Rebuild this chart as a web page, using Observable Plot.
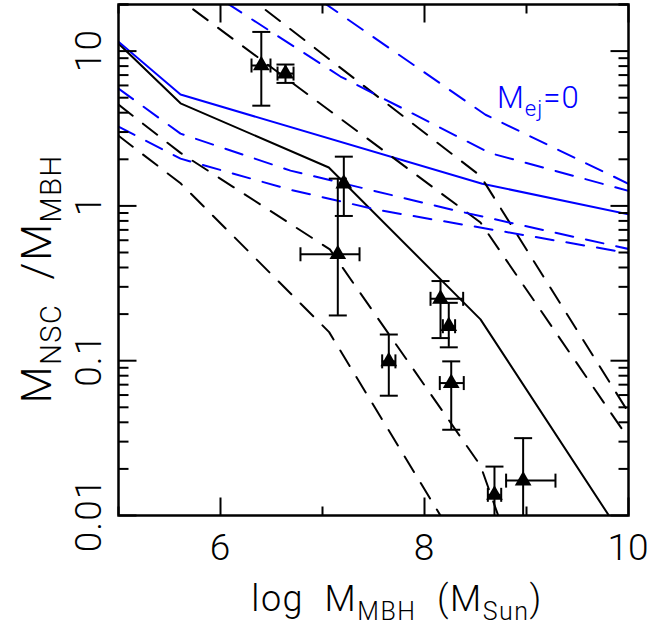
<!DOCTYPE html>
<html><head><meta charset="utf-8">
<script src="https://cdn.jsdelivr.net/npm/d3@7"></script>
<script src="https://cdn.jsdelivr.net/npm/@observablehq/plot@0.6"></script>
<style>body{margin:0;background:#fff} svg{display:block}</style>
</head><body><div id="chart"></div>
<script>
// ---- model curves (log M_MBH, M_NSC/M_MBH) ----
const blackSolidX = [5, 5.608, 7.062, 8.549, 10];
const blackSolidY = [11.2, 4.60, 1.77, 0.185, 0.0064];
const blueSolidX = [5, 5.608, 8.566, 10];
const blueSolidY = [11.5, 5.24, 1.39, 0.883];

const blackDash1X = [5, 5.608, 7.065, 8.6];
const blackDash1Y = [2.84, 1.40, 0.153, 0.0033];
const blackDash2X = [5, 5.608, 7.072, 8.549, 9.0];
const blackDash2Y = [4.51, 2.20, 0.524, 0.021, 0.00305];
const blackDash3X = [5, 8.549, 10];
const blackDash3Y = [42.4, 0.781, 0.0314];
const blackDash4X = [5, 8.549, 10];
const blackDash4Y = [100, 1.56, 0.0463];

const blueDash1X = [6.5, 8.598, 10];
const blueDash1Y = [35.2, 3.88, 1.39];
const blueDash2X = [5.8, 7.176, 8.637, 10];
const blueDash2Y = [26.4, 6.85, 2.20, 1.25];
const blueDash3X = [5, 5.608, 6.686, 8.314, 10];
const blueDash3Y = [5.73, 2.93, 1.69, 0.93, 0.527];
const blueDash4X = [5, 5.608, 6.686, 7.549, 10];
const blueDash4Y = [3.25, 2.02, 1.27, 0.94, 0.496];

// ---- observed points ----
const ptX   = [6.40, 6.637, 7.209, 7.150, 7.65, 8.157, 8.238, 8.262, 8.686, 8.967];
const ptY   = [8.07, 7.16, 1.39, 0.487, 0.099, 0.251, 0.167, 0.0717, 0.0136, 0.0168];
const ptYlo = [4.44, 6.23, 0.861, 0.196, 0.0594, 0.140, 0.122, 0.0358, 0.005, 0.005];
const ptYhi = [13.3, 8.19, 2.08, 1.50, 0.1476, 0.327, 0.2365, 0.099, 0.0207, 0.0316];
const ptXlo = [6.304, 6.559, null, 6.784, 7.585, 8.059, 8.18, 8.15, 8.621, 8.80];
const ptXhi = [6.49, 6.716, null, 7.363, 7.715, 8.379, 8.30, 8.385, 8.752, 9.284];

// ---- ticks ----
const xMajor = [6, 8, 10];
const xMinor = [5, 7, 9];
const xTickLabels = ["6", "8", "10"];
const yMajor = [0.01, 0.1, 1, 10];
const yTickLabels = ["0.01", "0.1", "1", "10"];
const yMinor = [];
[0.01, 0.1, 1, 10].forEach(d => { for (let k = 2; k <= 9; k++) if (d*k <= 20) yMinor.push(+(d*k).toPrecision(3)); });
yMinor.push(20);

const toRows = (xs, ys) => xs.map((x, i) => ({x, y: ys[i]}));
const lines = [
  {rows: toRows(blackSolidX, blackSolidY), stroke: "black", dash: null},
  {rows: toRows(blueSolidX, blueSolidY), stroke: "#0000ff", dash: null},
  {rows: toRows(blackDash1X, blackDash1Y), stroke: "black", dash: "18,13"},
  {rows: toRows(blackDash2X, blackDash2Y), stroke: "black", dash: "18,13"},
  {rows: toRows(blackDash3X, blackDash3Y), stroke: "black", dash: "18,13"},
  {rows: toRows(blackDash4X, blackDash4Y), stroke: "black", dash: "18,13"},
  {rows: toRows(blueDash1X, blueDash1Y), stroke: "#0000ff", dash: "18,13"},
  {rows: toRows(blueDash2X, blueDash2Y), stroke: "#0000ff", dash: "18,13"},
  {rows: toRows(blueDash3X, blueDash3Y), stroke: "#0000ff", dash: "18,13"},
  {rows: toRows(blueDash4X, blueDash4Y), stroke: "#0000ff", dash: "18,13"}
];
const pts = ptX.map((x, i) => ({x, y: ptY[i], ylo: ptYlo[i], yhi: ptYhi[i], xlo: ptXlo[i], xhi: ptXhi[i]}));
const ptsX = pts.filter(d => d.xlo != null);

const seg = (x0, y0, x1, y1) => ({draw(ctx) { ctx.moveTo(x0, y0); ctx.lineTo(x1, y1); }});
const hCap = seg(-9, 0, 9, 0);
const vCap = seg(0, -7, 0, 7);

const W = 652, H = 633;
const plot = Plot.plot({
  width: W, height: H,
  marginLeft: 118, marginRight: 24, marginTop: 4, marginBottom: 118,
  x: {domain: [5, 10], axis: null},
  y: {type: "log", domain: [0.01, 20], axis: null},
  style: {background: "white"},
  marks: [
    ...lines.map(l => Plot.line(l.rows, {x: "x", y: "y", stroke: l.stroke, strokeWidth: 2, strokeDasharray: l.dash, clip: true})),
    // error bars
    Plot.ruleX(pts, {x: "x", y1: "ylo", y2: "yhi", stroke: "black", strokeWidth: 2, clip: true}),
    Plot.ruleY(ptsX, {y: "y", x1: "xlo", x2: "xhi", stroke: "black", strokeWidth: 2, clip: true}),
    Plot.dot(pts, {x: "x", y: "yhi", symbol: hCap, stroke: "black", strokeWidth: 2, fill: "none"}),
    Plot.dot(pts.filter(d => d.ylo >= 0.01), {x: "x", y: "ylo", symbol: hCap, stroke: "black", strokeWidth: 2, fill: "none"}),
    Plot.dot(ptsX, {x: "xlo", y: "y", symbol: vCap, stroke: "black", strokeWidth: 2, fill: "none"}),
    Plot.dot(ptsX, {x: "xhi", y: "y", symbol: vCap, stroke: "black", strokeWidth: 2, fill: "none"}),
    Plot.dot(pts, {x: "x", y: "y", symbol: "triangle", r: 6.2, fill: "black", stroke: "none"}),
    // ticks on all four sides (inside)
    Plot.dot(yMajor, {y: d => d, frameAnchor: "left", symbol: seg(0, 0, 18, 0), stroke: "black", strokeWidth: 2}),
    Plot.dot(yMinor, {y: d => d, frameAnchor: "left", symbol: seg(0, 0, 10, 0), stroke: "black", strokeWidth: 2}),
    Plot.dot(yMajor, {y: d => d, frameAnchor: "right", symbol: seg(0, 0, -18, 0), stroke: "black", strokeWidth: 2}),
    Plot.dot(yMinor, {y: d => d, frameAnchor: "right", symbol: seg(0, 0, -10, 0), stroke: "black", strokeWidth: 2}),
    Plot.dot(xMajor, {x: d => d, frameAnchor: "bottom", symbol: seg(0, 0, 0, -18), stroke: "black", strokeWidth: 2}),
    Plot.dot(xMinor, {x: d => d, frameAnchor: "bottom", symbol: seg(0, 0, 0, -9), stroke: "black", strokeWidth: 2}),
    Plot.dot(xMajor, {x: d => d, frameAnchor: "top", symbol: seg(0, 0, 0, 18), stroke: "black", strokeWidth: 2}),
    Plot.dot(xMinor, {x: d => d, frameAnchor: "top", symbol: seg(0, 0, 0, 9), stroke: "black", strokeWidth: 2}),
    Plot.frame({stroke: "black", strokeWidth: 2.5})
  ]
});
document.getElementById("chart").appendChild(plot);

const svg = d3.select(plot);
const sx = plot.scale("x"), sy = plot.scale("y");
const font = "Roboto, 'Liberation Sans', Arial, sans-serif";
const fw = 300;
// x tick labels
xMajor.forEach((v, i) => {
  svg.append("text").attr("x", sx.apply(v)).attr("y", 560).attr("text-anchor", "middle")
    .attr("font-family", font).attr("font-weight", fw).attr("font-size", 37).attr("fill", "black").text(xTickLabels[i]);
});
// y tick labels (rotated)
yMajor.forEach((v, i) => {
  const y = sy.apply(v);
  svg.append("text").attr("x", 101).attr("y", y).attr("text-anchor", "middle")
    .attr("transform", `rotate(-90,101,${y})`).attr("letter-spacing", 1)
    .attr("font-family", font).attr("font-weight", fw).attr("font-size", 37).attr("fill", "black").text(yTickLabels[i]);
});
// x axis label
const xl = svg.append("text").attr("x", 397).attr("y", 611).attr("text-anchor", "middle")
  .attr("font-family", font).attr("font-weight", fw).attr("font-size", 36).attr("letter-spacing", 1.5).attr("fill", "black");
xl.append("tspan").text("log  M");
xl.append("tspan").attr("font-size", 25).attr("dy", 9).text("MBH");
xl.append("tspan").attr("dy", -9).text("  (M");
xl.append("tspan").attr("font-size", 25).attr("dy", 9).text("Sun");
xl.append("tspan").attr("dy", -9).text(")");
// y axis label
const yl = svg.append("text").attr("x", 0).attr("y", 0).attr("text-anchor", "middle")
  .attr("transform", "translate(51,279) rotate(-90)").attr("letter-spacing", 1.5)
  .attr("font-family", font).attr("font-weight", fw).attr("font-size", 43).attr("fill", "black");
yl.append("tspan").text("M");
yl.append("tspan").attr("font-size", 29).attr("dy", 10).text("NSC");
yl.append("tspan").attr("dy", -10).text("  /M");
yl.append("tspan").attr("font-size", 29).attr("dy", 10).text("MBH");
// annotation
const an = svg.append("text").attr("x", 497).attr("y", 108).attr("text-anchor", "start")
  .attr("font-family", font).attr("font-weight", fw).attr("font-size", 31).attr("letter-spacing", 1).attr("fill", "#0000ff");
an.append("tspan").text("M");
an.append("tspan").attr("font-size", 22).attr("dy", 8).text("ej");
an.append("tspan").attr("dy", -8).text("=0");
</script>
</body></html>
